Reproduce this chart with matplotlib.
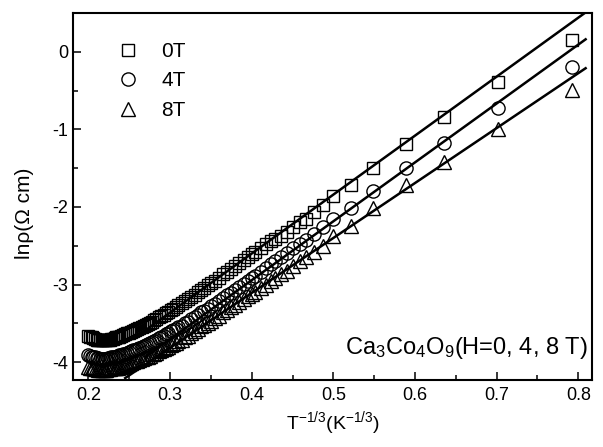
import numpy as np
import matplotlib
matplotlib.use("Agg")
import matplotlib.pyplot as plt

plt.rcParams['font.family'] = ['Liberation Sans', 'DejaVu Sans']
plt.rcParams['mathtext.fontset'] = 'custom'
plt.rcParams['mathtext.rm'] = 'Liberation Sans'
plt.rcParams['mathtext.it'] = 'Liberation Sans:italic'

# T^(-1/3) values, shared by all three field runs
x_vals = [
    0.200, 0.202, 0.204, 0.206, 0.208, 0.210, 0.212, 0.214, 0.216, 0.218, 0.220,
    0.222, 0.224, 0.226, 0.228, 0.230, 0.232, 0.234, 0.236, 0.238, 0.240,
    0.2425, 0.245, 0.2475, 0.250, 0.2525, 0.255, 0.2575, 0.260, 0.2625, 0.265,
    0.2675, 0.270, 0.2725, 0.275, 0.2775, 0.280,
    0.283, 0.286, 0.289, 0.292, 0.295, 0.298, 0.301, 0.304, 0.307, 0.310,
    0.314, 0.318, 0.322, 0.326, 0.330, 0.334, 0.338, 0.342, 0.346, 0.350,
    0.355, 0.360, 0.365, 0.370, 0.375, 0.380, 0.385, 0.390, 0.395, 0.400,
    0.404, 0.411, 0.417, 0.423, 0.429, 0.436, 0.443, 0.451, 0.459,
    0.467, 0.476, 0.487, 0.500, 0.521, 0.549, 0.589, 0.636, 0.702, 0.792,
]

# ln(rho) for H = 0 T
y_0T = [
    -3.66, -3.67, -3.68, -3.69, -3.70, -3.71, -3.71, -3.72, -3.72, -3.72, -3.72,
    -3.72, -3.71, -3.71, -3.70, -3.70, -3.69, -3.68, -3.67, -3.67, -3.66,
    -3.65, -3.64, -3.63, -3.62, -3.61, -3.60, -3.58, -3.57, -3.56, -3.55,
    -3.53, -3.52, -3.51, -3.49, -3.48, -3.46,
    -3.44, -3.42, -3.41, -3.39, -3.37, -3.35, -3.33, -3.31, -3.29, -3.27,
    -3.24, -3.21, -3.19, -3.16, -3.13, -3.10, -3.07, -3.04, -3.01, -2.98,
    -2.95, -2.91, -2.87, -2.84, -2.80, -2.76, -2.72, -2.68, -2.65, -2.61,
    -2.58, -2.53, -2.48, -2.44, -2.41, -2.37, -2.32, -2.26, -2.20,
    -2.15, -2.06, -1.97, -1.86, -1.72, -1.50, -1.19, -0.84, -0.39, 0.15,
]

# ln(rho) for H = 4 T
y_4T = [
    -3.91, -3.92, -3.93, -3.93, -3.94, -3.95, -3.95, -3.96, -3.96, -3.96, -3.96,
    -3.96, -3.95, -3.95, -3.94, -3.94, -3.93, -3.93, -3.92, -3.91, -3.91,
    -3.90, -3.89, -3.88, -3.87, -3.86, -3.85, -3.84, -3.83, -3.82, -3.80,
    -3.79, -3.78, -3.77, -3.75, -3.74, -3.73,
    -3.71, -3.69, -3.67, -3.66, -3.64, -3.62, -3.60, -3.59, -3.57, -3.55,
    -3.53, -3.50, -3.48, -3.45, -3.42, -3.39, -3.36, -3.34, -3.31, -3.28,
    -3.25, -3.21, -3.18, -3.14, -3.11, -3.07, -3.03, -2.99, -2.96, -2.92,
    -2.89, -2.84, -2.79, -2.74, -2.70, -2.64, -2.59, -2.53, -2.48,
    -2.42, -2.35, -2.26, -2.16, -2.02, -1.80, -1.50, -1.17, -0.73, -0.20,
]

# ln(rho) for H = 8 T
y_8T = [
    -4.06, -4.07, -4.08, -4.08, -4.09, -4.09, -4.10, -4.10, -4.10, -4.10, -4.10,
    -4.10, -4.09, -4.09, -4.08, -4.08, -4.08, -4.07, -4.07, -4.06, -4.06,
    -4.05, -4.04, -4.03, -4.02, -4.01, -4.00, -3.99, -3.98, -3.97, -3.96,
    -3.95, -3.94, -3.93, -3.92, -3.90, -3.89,
    -3.88, -3.86, -3.85, -3.83, -3.82, -3.80, -3.78, -3.77, -3.75, -3.73,
    -3.71, -3.68, -3.66, -3.63, -3.60, -3.57, -3.54, -3.52, -3.49, -3.47,
    -3.43, -3.40, -3.36, -3.33, -3.29, -3.26, -3.22, -3.19, -3.15, -3.12,
    -3.09, -3.04, -3.00, -2.96, -2.92, -2.87, -2.82, -2.76, -2.70,
    -2.64, -2.58, -2.50, -2.38, -2.24, -2.02, -1.72, -1.42, -1.00, -0.49,
]

labels = ["0T", "4T", "8T"]
markers = ["s", "o", "^"]
marker_sizes = [9, 9.5, 10]

# linear fits: slope, intercept, x range
fit_slope = [7.60, 7.59, 7.08]
fit_icpt = [-5.641, -5.980, -5.94]
fit_xmin = [0.27, 0.27, 0.245]
fit_xmax = [0.81, 0.809, 0.809]

fig = plt.figure(figsize=(6.03, 4.47), dpi=100)
ax = fig.add_axes([0.121, 0.150, 0.861, 0.821])

series = [y_0T, y_4T, y_8T]
for y, lab, m, ms in zip(series, labels, markers, marker_sizes):
    ax.plot(x_vals, y, linestyle="none", marker=m, markersize=ms,
            markerfacecolor="none", markeredgecolor="black", markeredgewidth=1.0,
            label=lab)

for s, b, x0, x1 in zip(fit_slope, fit_icpt, fit_xmin, fit_xmax):
    xx = np.array([x0, x1])
    ax.plot(xx, s * xx + b, color="black", linewidth=1.8)

ax.set_xlim(0.181, 0.817)
ax.set_ylim(-4.23, 0.5)
ax.set_xticks([0.2, 0.3, 0.4, 0.5, 0.6, 0.7, 0.8])
ax.set_xticks(np.arange(0.25, 0.8, 0.1), minor=True)
ax.set_yticks([-4, -3, -2, -1, 0])
ax.set_yticks([-3.5, -2.5, -1.5, -0.5], minor=True)
ax.set_xticklabels(["0.2", "0.3", "0.4", "0.5", "0.6", "0.7", "0.8"])
ax.set_yticklabels(["-4", "-3", "-2", "-1", "0"])
ax.tick_params(which="both", direction="in", labelsize=13, width=1.1)
ax.tick_params(which="major", length=6)
ax.tick_params(which="minor", length=3.5)
ax.tick_params(axis="x", pad=5)
for sp in ax.spines.values():
    sp.set_linewidth(1.5)

ax.set_xlabel("T$^{-1/3}$(K$^{-1/3}$)", fontsize=14, labelpad=4)
ax.set_ylabel("ln\u03c1(\u03a9 cm)", fontsize=15)
ax.yaxis.set_label_coords(-0.075, 0.455)

ax.legend(loc="upper left", bbox_to_anchor=(0.042, 0.955), frameon=False,
          fontsize=15, handletextpad=0.6, labelspacing=0.5, borderaxespad=0.2)

ax.text(0.5147, -3.90, "Ca$_3$Co$_4$O$_9$(H=0, 4, 8 T)", fontsize=17,
        va="baseline", ha="left")

fig.savefig("out.png", dpi=100)
